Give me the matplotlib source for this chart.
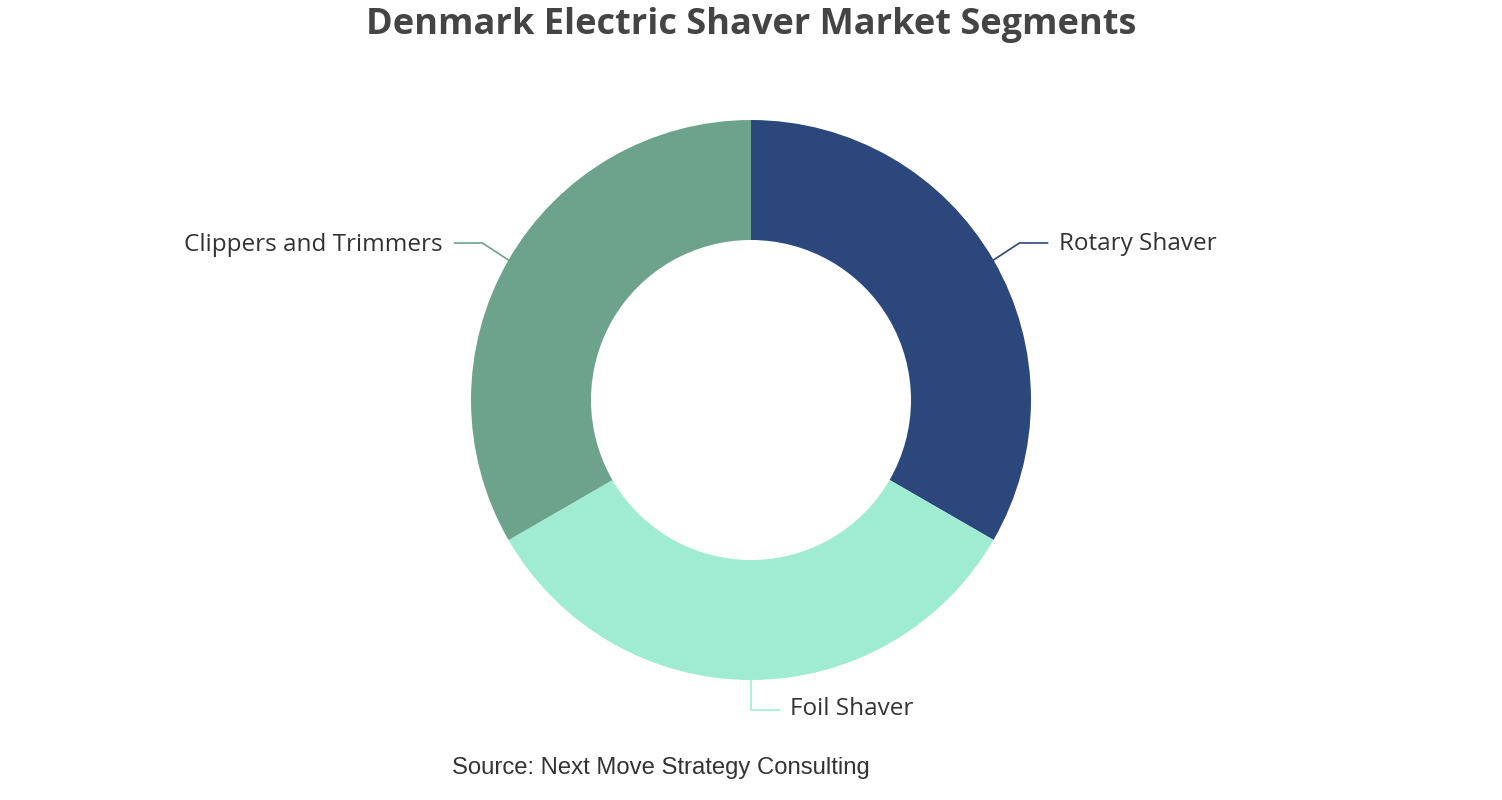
import matplotlib.pyplot as plt
import numpy as np

# Segment data (three equal shares)
segments = ["Rotary Shaver", "Foil Shaver", "Clippers and Trimmers"]
shares = [33.33, 33.33, 33.34]
colors = ["#2b477c", "#a0ecd2", "#6da38d"]

title = "Denmark Electric Shaver Market Segments"
source = "Source: Next Move Strategy Consulting"

W, H = 1502, 800
fig = plt.figure(figsize=(W / 100, H / 100), dpi=100)
ax = fig.add_axes([0, 0, 1, 1])
ax.set_xlim(0, W)
ax.set_ylim(0, H)
ax.axis("off")

cx, cy = 751, H - 400
r_out, r_in = 280, 160

wedges, _ = ax.pie(shares, colors=colors, startangle=90, counterclock=False,
                   center=(cx, cy), radius=r_out,
                   wedgeprops=dict(width=r_out - r_in, edgecolor="none"))
ax.set_xlim(0, W)
ax.set_ylim(0, H)
ax.set_aspect("equal")

# leader lines and labels
label_font = dict(family=["Open Sans", "DejaVu Sans"], fontsize=17.5, color="#333333")
for w, name, col in zip(wedges, segments, colors):
    mid = np.deg2rad((w.theta1 + w.theta2) / 2)
    x0 = cx + r_out * np.cos(mid)
    y0 = cy + r_out * np.sin(mid)
    dx = np.cos(mid)
    if abs(dx) < 0.05:
        # bottom label
        x1, y1 = x0, y0 - 30
        x2 = x1 + 28
        ax.plot([x0, x1, x2], [y0, y1, y1], color=col, lw=1.2)
        ax.text(x2 + 11, y1 + 1, name, ha="left", va="center", **label_font)
    else:
        s = 1 if dx > 0 else -1
        x1, y1 = x0 + s * 26, y0 + 17
        x2 = x1 + s * 28
        ax.plot([x0, x1, x2], [y0, y1, y1], color=col, lw=1.2)
        ax.text(x2 + s * 12, y1 - 1.5, name, ha="left" if s > 0 else "right",
                va="center", **label_font)

fig.text(751 / W, 1 - 25 / H, title, ha="center", va="center",
         fontsize=26, fontweight="bold", color="#444444",
         family=["Open Sans", "DejaVu Sans"])
fig.text(661 / W, 1 - 768 / H, source, ha="center", va="center",
         fontsize=17.2, color="#333333", family=["Liberation Sans", "DejaVu Sans"])

fig.savefig("out.png", dpi=100, facecolor="white")
